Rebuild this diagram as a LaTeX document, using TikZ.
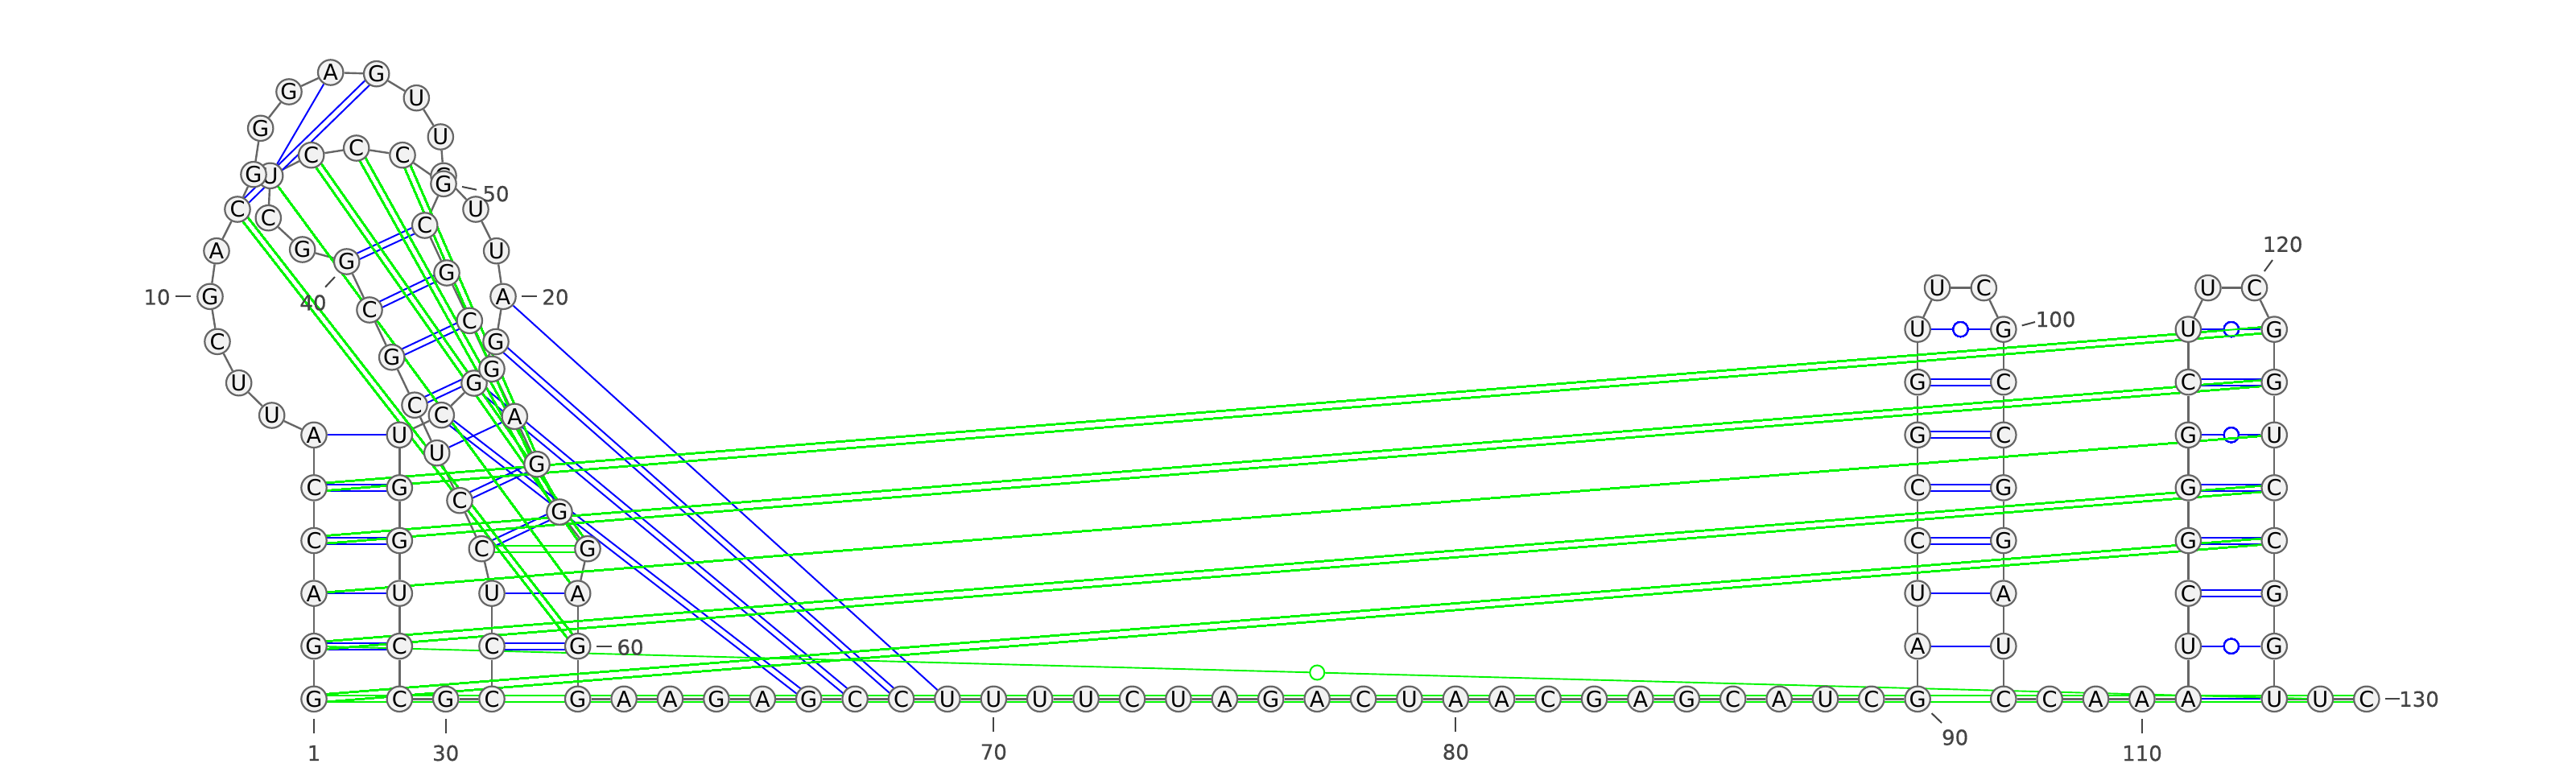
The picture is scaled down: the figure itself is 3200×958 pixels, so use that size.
\documentclass[tikz,border=0pt]{standalone}
\usepackage{fontspec}
\setmainfont{DejaVu Sans}
\newfontfamily\numfont[FakeBold=0.5]{DejaVu Sans}
\usetikzlibrary{calc}
\pgfdeclarelayer{edges}
\pgfsetlayers{edges,main}
\definecolor{bbgray}{HTML}{666666}
\definecolor{lblgray}{HTML}{444444}
\definecolor{ntfill}{HTML}{F2F2F2}
\definecolor{pairblue}{HTML}{0000FF}
\definecolor{pairgreen}{HTML}{00F500}
\tikzset{
  nt/.style={circle,draw=bbgray,fill=ntfill,line width=1.1pt,minimum size=15.7pt,inner sep=0pt,font=\fontsize{13.6}{14}\selectfont,text=black},
  bb/.style={draw=bbgray,line width=1.2pt},
  blueln/.style={draw=pairblue,line width=1pt},
  greenln/.style={draw=pairgreen,line width=0.95pt},
  wobB/.style={circle,draw=pairblue,fill=white,line width=1pt,minimum size=9pt,inner sep=0pt},
  wobG/.style={circle,draw=pairgreen,fill=white,line width=1pt,minimum size=9pt,inner sep=0pt},
  lbl/.style={font=\numfont\fontsize{13}{14}\selectfont,text=lblgray,inner sep=0pt},
  tick/.style={draw=lblgray,line width=1pt},
}
% #1 style, #2 #3 nodes, #4 half-gap at #2, #5 half-gap at #3
\newcommand{\dblpair}[5]{%
  \draw[#1] ($(n#2)!#4!90:(n#3)$) -- ($(n#3)!#5!-90:(n#2)$);
  \draw[#1] ($(n#2)!#4!-90:(n#3)$) -- ($(n#3)!#5!90:(n#2)$);
}
\newcommand{\numlbl}[7]{%
  \node[lbl] (L#1) at (#2,#3) {#1};
  \coordinate (Ta#1) at (#4,#5);
  \coordinate (Tb#1) at (#6,#7);
  \draw[tick] (Ta#1) -- (Tb#1);
}
\begin{document}
\begin{tikzpicture}[x=0.5pt,y=-0.5pt]
\useasboundingbox (0,0) rectangle (3200,958);
% inner chain (drawn first, lies beneath the rest)
\foreach \i/\x/\y/\t in {
27/496.3/540.3/U,28/496.3/605.9/G,29/496.3/671.5/G,30/496.3/737.1/U,31/496.3/802.7/C,32/496.3/868.3/C,
33/553.7/868.3/G,34/611/868.3/C,35/611/802.7/C,36/611/737.1/U,37/598.3/681.7/C,38/571/621.7/C,
39/542.7/562.7/U,40/515/503.2/C,41/486.7/443.8/G,42/459/385/C,43/430.7/325/G,44/375.7/310/G,
45/333.3/270.7/C,46/335.7/218.3/U,47/386.7/192.7/C,48/442.7/184/C,49/500/192.7/C}
  \node[nt] (n\i) at (\x,\y) {\t};
\foreach \i/\x/\y/\t in {
1/390/868.3/G,2/390/802.7/G,3/390/737.1/A,4/390/671.5/C,5/390/605.9/C,6/390/540.3/A,
7/337.7/516/U,8/296.7/475.7/U,9/270/424.3/C,10/261/368.3/G,11/269/311.7/A,12/295/260/C,
13/315/216.7/G,14/323.7/159.3/G,15/359/114/G,16/410.7/90/A,17/467.7/91.7/G,18/517.3/121.7/U,
19/547.3/170/U,20/551/218.3/G,21/591/260/U,22/616.7/311.7/U,23/625/368.3/A,24/616/424.5/G,
25/589/476/G,26/548.3/515.7/C}
  \node[nt] (n\i) at (\x,\y) {\t};
\foreach \i/\x/\y/\t in {
50/551/228.3/G,51/527.7/280/C,52/555/339/G,53/583.3/398.3/C,54/611/458.3/G,55/639.3/517.3/A,
56/667/576.7/G,57/695/636/G,58/730/681.7/G,59/717.7/737.1/A,60/717.7/802.7/G,61/717.7/868.3/G,
62/775.1/868.3/A,63/832.5/868.3/A,64/889.9/868.3/G,65/947.3/868.3/A,66/1004.7/868.3/G,67/1062.1/868.3/C,
68/1119.5/868.3/C,69/1176.9/868.3/U,70/1234.3/868.3/U,71/1291.7/868.3/U,72/1349.1/868.3/U,73/1406.5/868.3/C,
74/1463.9/868.3/U,75/1521.3/868.3/A,76/1578.7/868.3/G,77/1636.1/868.3/A,78/1693.5/868.3/C,79/1750.9/868.3/U,
80/1808.3/868.3/A,81/1865.7/868.3/A,82/1923.1/868.3/C,83/1980.5/868.3/G,84/2037.9/868.3/A,85/2095.3/868.3/G,
86/2152.7/868.3/C,87/2210.1/868.3/A,88/2267.5/868.3/U,89/2324.8/868.3/C,90/2382.1/868.3/G,
91/2382.1/802.7/A,92/2382.1/737.1/U,93/2382.1/671.5/C,94/2382.1/605.9/C,95/2382.1/540.3/G,96/2382.1/474.7/G,97/2382.1/409.1/U,
98/2406.6/357.6/U,99/2464.3/357.6/C,
100/2488.8/409.1/G,101/2488.8/474.7/C,102/2488.8/540.3/C,103/2488.8/605.9/G,104/2488.8/671.5/G,105/2488.8/737.1/A,106/2488.8/802.7/U,107/2488.8/868.3/C,
108/2546.1/868.3/C,109/2603.5/868.3/A,110/2660.9/868.3/A,111/2718.3/868.3/A,
112/2718.3/802.7/U,113/2718.3/737.1/C,114/2718.3/671.5/G,115/2718.3/605.9/G,116/2718.3/540.3/G,117/2718.3/474.7/C,118/2718.3/409.1/U,
119/2742.9/357.6/U,120/2800.5/357.6/C,
121/2825.2/409.1/G,122/2825.2/474.7/G,123/2825.2/540.3/U,124/2825.2/605.9/C,125/2825.2/671.5/C,126/2825.2/737.1/G,127/2825.2/802.7/G,128/2825.2/868.3/U,
129/2882.4/868.3/U,130/2939.8/868.3/C}
  \node[nt] (n\i) at (\x,\y) {\t};
% number labels
\numlbl{1}{390}{935.5}{390}{893}{390}{911}
\numlbl{10}{195}{369}{218}{368.3}{237}{368.3}
\numlbl{20}{690}{369}{648}{368.3}{667}{368.3}
\numlbl{30}{553.7}{935.5}{553.7}{893}{553.7}{911}
\numlbl{40}{389}{376}{404}{356.7}{416}{344}
\numlbl{50}{616}{240.7}{574}{232}{592}{235.7}
\numlbl{60}{783}{804}{741}{803}{760}{803}
\numlbl{70}{1234.3}{934}{1234.3}{891}{1234.3}{909}
\numlbl{80}{1808.3}{934}{1808.3}{891}{1808.3}{909}
\numlbl{90}{2428.6}{916}{2399.5}{886}{2412}{898}
\numlbl{100}{2553.6}{396.6}{2511.7}{404.4}{2528}{400}
\numlbl{110}{2661}{935.7}{2661}{893}{2661}{910.5}
\numlbl{120}{2835.7}{303.4}{2812.8}{337}{2823}{323}
\numlbl{130}{3005}{868.4}{2963}{868.3}{2981}{868.3}
% connectors beneath the nodes
\begin{pgfonlayer}{edges}
  \foreach \i in {1,...,129}{
    \pgfmathtruncatemacro{\nxt}{\i+1}
    \draw[bb] (n\i) -- (n\nxt);
  }
  \foreach \a/\b in {6/27,3/30,36/59,39/55,91/106,92/105,111/128,23/69,16/46}
    \draw[blueln] (n\a) -- (n\b);
  \foreach \a/\b in {5/28,4/29,2/31,35/60,38/56,37/57,40/54,41/53,42/52,43/51,12/17,24/68,25/67,26/66,
      93/104,94/103,95/102,96/101,113/126,114/125,115/124,117/122}
    \dblpair{blueln}{\a}{\b}{2pt}{2pt}
  \foreach \a/\b in {97/100,112/127,116/123,118/121}{
    \draw[blueln] (n\a) -- (n\b);
    \node[wobB] (w\a) at ($(n\a)!.5!(n\b)$) {};
  }
  \foreach \a/\b in {5/121,4/122,2/124,1/125}
    \dblpair{greenln}{\a}{\b}{2.4pt}{1.9pt}
  \foreach \a/\b in {1/130,12/60,47/58,48/57,49/56,37/58}
    \dblpair{greenln}{\a}{\b}{2pt}{2pt}
  \foreach \a/\b in {3/123,46/59}
    \draw[greenln] (n\a) -- (n\b);
  \draw[greenln] (n2) -- (n129);
  \node[wobG] (w2) at ($(n2)!.5!(n129)$) {};
\end{pgfonlayer}
\end{tikzpicture}
\end{document}
